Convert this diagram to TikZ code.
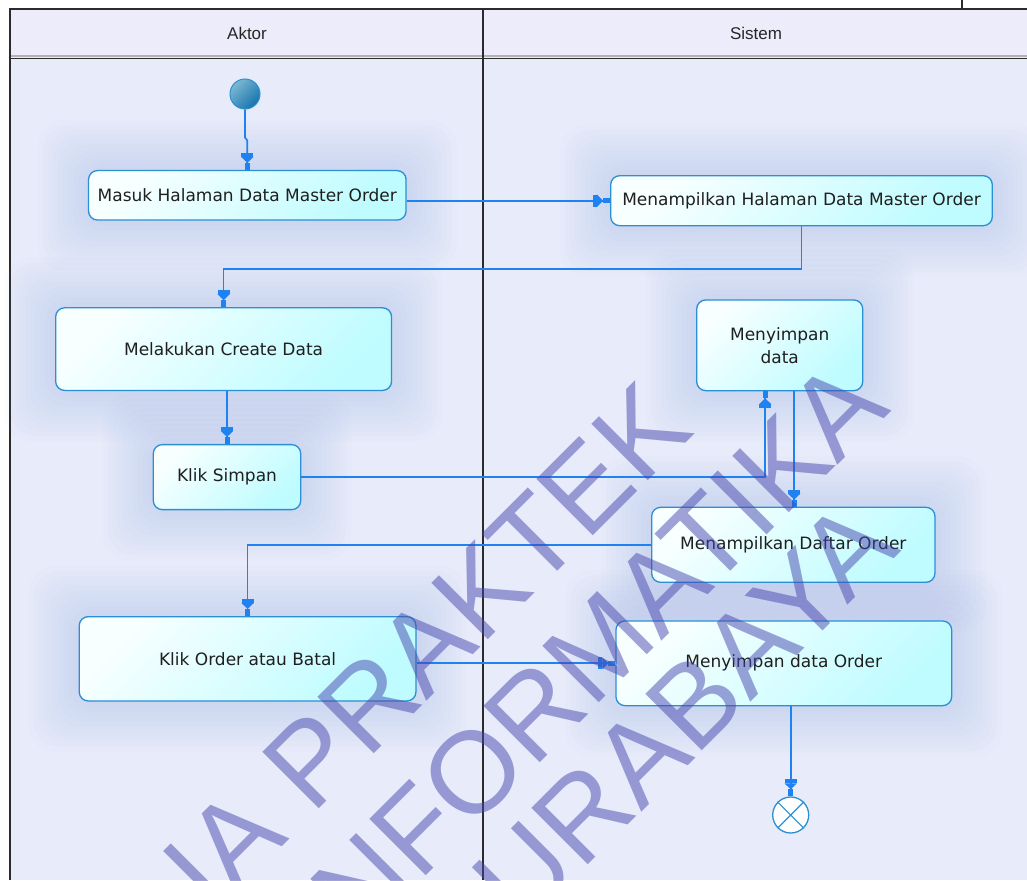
\documentclass[tikz,border=0pt]{standalone}
\usepackage{fontspec}
\setmainfont{DejaVu Sans}
\newfontfamily\headfont{Liberation Sans}
\newfontfamily\markfont{Liberation Sans}
\usetikzlibrary{arrows.meta,calc}

\definecolor{lanebg}{HTML}{E8EBFA}
\definecolor{headbg}{HTML}{ECECFB}
\definecolor{frameline}{HTML}{2B2B2B}
\definecolor{boxline}{HTML}{2A8FD4}
\definecolor{boxlight}{HTML}{F8FFFF}
\definecolor{boxcyan}{HTML}{BEFCFF}
\definecolor{flowblue}{HTML}{1F82F2}
\definecolor{hazeblue}{HTML}{9DB4EE}
\definecolor{markblue}{RGB}{70,70,175}
\definecolor{startlight}{HTML}{7DB8D2}
\definecolor{startdark}{HTML}{1673AE}

\pgfdeclarelayer{bg}
\pgfdeclarelayer{haze}
\pgfdeclarelayer{mark}
\pgfsetlayers{bg,haze,main,mark}

\tikzset{
  activity/.style={draw=boxline, line width=1.3pt, rounded corners=9pt,
    top color=boxlight, bottom color=boxcyan, shading angle=45,
    inner sep=0pt, align=center, text=black!88,
    font=\fontsize{17}{23}\selectfont},
  flowline/.style={draw=flowblue, line width=1.7pt,
    -{Rectangle[width=12pt,length=4pt,sep=0pt]
      Triangle[width=12pt,length=6pt,sep=0pt]
      Rectangle[width=5pt,length=7pt,sep=0pt]}},
  lanetitle/.style={font=\headfont\fontsize{17}{20}\selectfont, text=black!85, inner sep=0pt},
  initial/.style={circle, minimum size=30pt, inner sep=0pt, draw=boxline, line width=1pt,
    top color=startlight, bottom color=startdark, shading angle=45},
  final/.style={circle, minimum size=36pt, inner sep=0pt, draw=boxline, line width=1.3pt,
    fill=white},
  markword/.style={font=\markfont\fontsize{116}{116}\selectfont, text=markblue,
    text opacity=0.5, rotate=45, inner sep=0pt}
}

% soft blue halo behind an activity
\newcommand\haze[1]{%
  \foreach \k [evaluate=\k as \d using 5*\k] in {1,...,10}{%
    \fill[hazeblue, opacity=0.035, rounded corners=26pt]
      ($(#1.south west)+(-\d pt,-\d pt)$) rectangle ($(#1.north east)+(\d pt,\d pt)$);
  }%
}

\begin{document}
\begin{tikzpicture}[x=1pt,y=-1pt]
\useasboundingbox (0,0) rectangle (1027,880);

% swimlane frame
\begin{pgfonlayer}{bg}
  \fill[white] (0,0) rectangle (1027,880);
  \fill[headbg] (10,9) rectangle (1027,58);
  \fill[lanebg] (10,58) rectangle (1027,880);
  \draw[black!30, line width=1.5pt] (10,56) -- (1027,56);
  \draw[frameline, line width=1.8pt] (10,880) -- (10,9) -- (1027,9);
  \draw[frameline, line width=1.2pt] (962,0) -- (962,9);
  \draw[frameline, line width=1.6pt] (10,58.5) -- (1027,58.5);
  \draw[frameline, line width=1.4pt] (483,9) -- (483,880);
\end{pgfonlayer}

\node[lanetitle] (aktor) at (247,33) {Aktor};
\node[lanetitle] (sistem) at (756,33) {Sistem};

% activities
\node[initial] (start) at (245,94) {};
\node[activity, minimum width=317.5pt, minimum height=49.5pt] (masuk) at (247.3,195.3) {Masuk Halaman Data Master Order};
\node[activity, minimum width=381.6pt, minimum height=50pt] (mhd) at (801.5,200.7) {Menampilkan Halaman Data Master Order};
\node[activity, minimum width=335.9pt, minimum height=82.6pt] (create) at (223.6,349.1) {Melakukan Create Data};
\node[activity, minimum width=166pt, minimum height=90.7pt] (store) at (779.7,345.3) {Menyimpan\\data};
\node[activity, minimum width=147.4pt, minimum height=65pt] (simpan) at (227,477.1) {Klik Simpan};
\node[activity, minimum width=283.3pt, minimum height=75pt] (list) at (793.3,544.8) {Menampilkan Daftar Order};
\node[activity, minimum width=336.7pt, minimum height=84.3pt] (order) at (247.6,658.8) {Klik Order atau Batal};
\node[activity, minimum width=335.7pt, minimum height=84.7pt] (save) at (783.8,663.3) {Menyimpan data Order};
\node[final] (finish) at (790.7,815) {};
\draw[boxline, line width=1.1pt] (finish.north west) -- (finish.south east)
                                 (finish.north east) -- (finish.south west);

\begin{pgfonlayer}{haze}
  \haze{masuk}\haze{mhd}\haze{create}\haze{store}
  \haze{simpan}\haze{list}\haze{order}\haze{save}
\end{pgfonlayer}

% control flows
\draw[flowline] (start.south) -- ++(0,28) -- ++(2.3,3) -- (masuk.north);
\draw[flowline] (masuk.east |- mhd.west) -- (mhd.west);
\draw[flowline] (mhd.south) -- ++(0,42.5) -| (create.north);
\draw[flowline] (create.south -| simpan.north) -- (simpan.north);
\draw[flowline] (simpan.east) -| ([xshift=-14.5pt]store.south);
\draw[flowline] ([xshift=14.5pt]store.south) -- ([xshift=14.5pt]store.south |- list.north);
\draw[flowline] (list.west) -| (order.north);
\draw[flowline] (order.east |- save.west) -- (save.west);
\draw[flowline] (save.south -| finish.north) -- (finish.north);

% diagonal overlay lettering
\begin{pgfonlayer}{mark}
  \begin{scope}
    \clip (0,0) rectangle (1027,880);
    \node[markword] (mark1) at (426,646) {IA PRAKTEK};
    \node[markword] (mark2) at (586.5,659.5) {INFORMATIKA};
    \node[markword] (mark3) at (657,740) {SURABAYA};
  \end{scope}
\end{pgfonlayer}
\end{tikzpicture}
\end{document}
